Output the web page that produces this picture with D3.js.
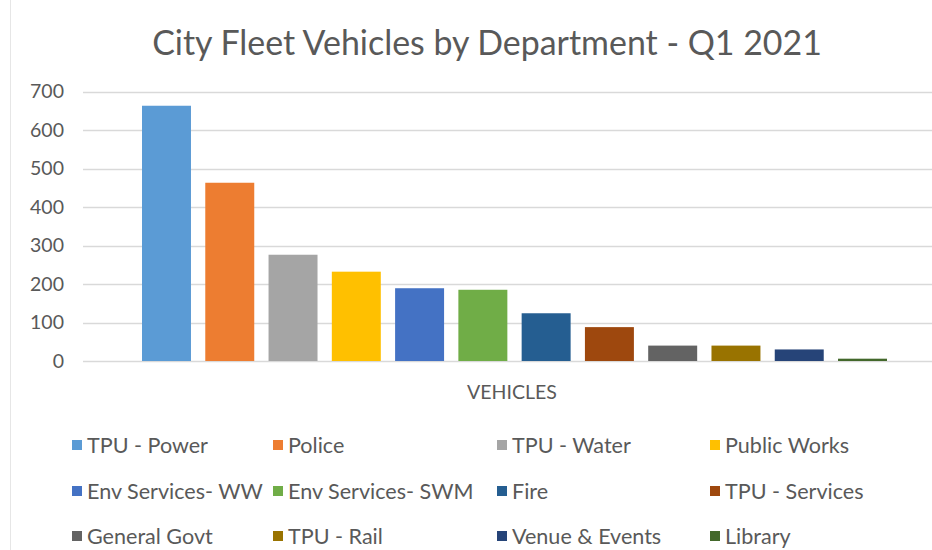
<!DOCTYPE html>
<html><head><meta charset="utf-8">
<script src="https://cdn.jsdelivr.net/npm/d3@7"></script>
<style>body{margin:0;background:#fff}svg{display:block}</style>
</head><body>
<svg id="c" width="932" height="550"></svg>
<script>
const departments = ["TPU - Power","Police","TPU - Water","Public Works","Env Services- WW","Env Services- SWM","Fire","TPU - Services","General Govt","TPU - Rail","Venue & Events","Library"];
const vehicles = [663, 463, 276, 232, 189, 185, 124, 88, 40, 40, 30, 6];
const colors = ["#5B9BD5","#ED7D31","#A5A5A5","#FFC000","#4472C4","#70AD47","#255E91","#9E480E","#636363","#997300","#264478","#43682B"];
const yTicks = [0,100,200,300,400,500,600,700];
const title = "City Fleet Vehicles by Department - Q1 2021";
const axisTitle = "VEHICLES";

const FONT = "Lato, 'Open Sans', sans-serif";
const TXT = "#595959";
const svg = d3.select("#c");
svg.append("rect").attr("width",932).attr("height",550).attr("fill","#fff");
svg.append("line").attr("x1",10.5).attr("x2",10.5).attr("y1",0).attr("y2",550).attr("stroke","#e6e6e6");

function fit(sel, target){
  const w = sel.node().getComputedTextLength();
  const fs = parseFloat(sel.attr("font-size"));
  sel.attr("font-size", fs*target/w);
}

const y = d3.scaleLinear().domain([0,700]).range([361,91.5]);
const x = d3.scaleBand().domain(departments).range([142,887]).paddingInner(0.226).paddingOuter(0);

// gridlines
svg.append("g").selectAll("line").data(yTicks).join("line")
  .attr("x1",83).attr("x2",932).attr("y1",d=>Math.round(y(d))+0.5).attr("y2",d=>Math.round(y(d))+0.5)
  .attr("stroke","#d9d9d9").attr("stroke-width",1.5);

// y axis labels via d3 axis
const yAxis = svg.append("g").attr("transform","translate(72,0)")
  .call(d3.axisLeft(y).tickValues(yTicks).tickSize(0).tickPadding(8));
yAxis.select(".domain").remove();
yAxis.selectAll("text").attr("fill",TXT).attr("font-family",FONT).attr("font-size",19.5);

// bars
svg.append("g").selectAll("rect").data(departments).join("rect")
  .attr("x",d=>x(d)).attr("width",x.bandwidth())
  .attr("y",(d,i)=>y(vehicles[i])).attr("height",(d,i)=>y(0)-y(vehicles[i]))
  .attr("fill",(d,i)=>colors[i]);

// title
const t = svg.append("text").attr("x",487).attr("y",55).attr("text-anchor","middle")
  .attr("fill",TXT).attr("font-family",FONT).attr("font-size",30).text(title);
fit(t,670);

const at = svg.append("text").attr("x",512).attr("y",399).attr("text-anchor","middle")
  .attr("fill",TXT).attr("font-family",FONT).attr("font-size",16).text(axisTitle);
fit(at,90);

// legend
const colX = [72,273,497,710];
const rowY = [445,491,536];
const lg = svg.append("g").selectAll("g").data(departments).join("g")
  .attr("transform",(d,i)=>`translate(${colX[i%4]},${rowY[Math.floor(i/4)]})`);
lg.append("rect").attr("x",0).attr("y",-5).attr("width",10).attr("height",10).attr("fill",(d,i)=>colors[i]);
const lt = lg.append("text").attr("x",15).attr("dy","0.35em").attr("fill",TXT)
  .attr("font-family",FONT).attr("font-size",19).text(d=>d);
// scale legend font so a reference entry matches its width in the original
const ref = lt.filter(d=>d==="Env Services- WW");
const w = ref.node().getComputedTextLength();
lt.attr("font-size",19*176/w);
</script>
</body></html>
